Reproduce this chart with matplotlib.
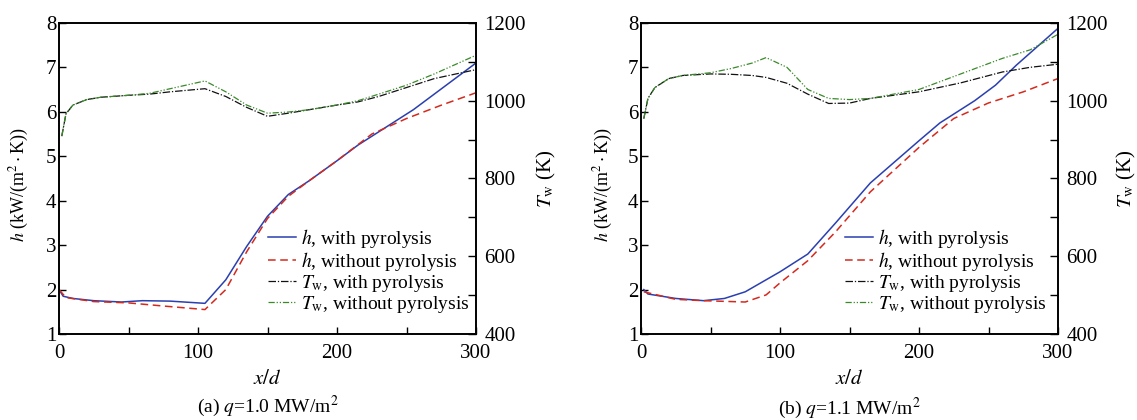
import matplotlib
matplotlib.use("Agg")
import matplotlib.pyplot as plt
import numpy as np

plt.rcParams['font.family'] = ['Liberation Serif', 'DejaVu Serif']
plt.rcParams['mathtext.fontset'] = 'stix'

# ---------- data panel (a) q=1.0 MW/m2 ----------
a_h_with_x = [0, 3, 10, 25, 45, 60, 80, 105, 120, 135, 150, 165, 180, 200, 215, 230, 255, 270, 285, 300]
a_h_with_y = [2.0, 1.85, 1.8, 1.75, 1.72, 1.75, 1.74, 1.69, 2.22, 2.97, 3.65, 4.14, 4.45, 4.9, 5.25, 5.55, 6.05, 6.4, 6.75, 7.1]
a_h_wo_x = [0, 5, 25, 50, 75, 105, 120, 135, 150, 165, 180, 200, 225, 250, 275, 300]
a_h_wo_y = [2.0, 1.82, 1.73, 1.7, 1.63, 1.55, 2.0, 2.85, 3.6, 4.1, 4.45, 4.9, 5.5, 5.85, 6.15, 6.43]
a_T_x = [2, 5, 10, 20, 30, 50, 65, 80, 105, 120, 135, 150, 165, 180, 200, 215, 230, 250, 270, 300]
a_T_with = [909, 966, 989, 1003, 1009, 1014, 1017, 1023, 1031, 1011, 983, 960, 968, 977, 989, 997, 1011, 1034, 1057, 1080]
a_T_wo = [909, 966, 989, 1003, 1009, 1014, 1019, 1031, 1051, 1023, 989, 968, 971, 977, 989, 1000, 1017, 1040, 1069, 1117]

# ---------- data panel (b) q=1.1 MW/m2 ----------
b_h_with_x = [2, 5, 25, 45, 60, 75, 100, 120, 140, 165, 200, 215, 240, 255, 270, 300]
b_h_with_y = [2.0, 1.9, 1.8, 1.75, 1.8, 1.95, 2.4, 2.8, 3.5, 4.4, 5.35, 5.75, 6.25, 6.6, 7.05, 7.88]
b_h_wo_x = [2, 25, 45, 75, 90, 100, 120, 140, 165, 200, 225, 250, 275, 300]
b_h_wo_y = [1.95, 1.78, 1.75, 1.72, 1.88, 2.15, 2.65, 3.3, 4.2, 5.2, 5.85, 6.2, 6.45, 6.75]
b_T_x = [2, 5, 10, 20, 30, 50, 65, 80, 90, 105, 120, 135, 150, 165, 200, 230, 260, 280, 300]
b_T_with = [954, 1006, 1034, 1057, 1065, 1069, 1068, 1065, 1060, 1045, 1017, 993, 994, 1006, 1023, 1046, 1074, 1086, 1094]
b_T_wo = [954, 1006, 1034, 1057, 1065, 1072, 1083, 1097, 1111, 1086, 1029, 1006, 1003, 1006, 1029, 1069, 1109, 1131, 1171]

captions = ["(a) $q$=1.0 MW/m$^2$", "(b) $q$=1.1 MW/m$^2$"]

panels = [
    (a_h_with_x, a_h_with_y, a_h_wo_x, a_h_wo_y, a_T_x, a_T_with, a_T_wo),
    (b_h_with_x, b_h_with_y, b_h_wo_x, b_h_wo_y, b_T_x, b_T_with, b_T_wo),
]

W, H = 1137, 420
fig = plt.figure(figsize=(W / 100, H / 100), dpi=100)
rects = [(59, 23, 476, 334), (641, 23, 1058, 334)]
layout = [  # legend x anchor, ylabel left x, ylabel right x, caption y (px)
    (0.501, -0.094, 1.168, 406),
    (0.489, -0.089, 1.165, 408),
]
fs = 15

for cap, (hx1, hy1, hx2, hy2, tx, t1, t2), (l, t, r, b), (lgx, ylx, yrx, capy) in zip(captions, panels, rects, layout):
    ax = fig.add_axes([l / W, 1 - b / H, (r - l) / W, (b - t) / H])
    ax2 = ax.twinx()
    l1, = ax.plot(hx1, hy1, color='#2a3fb0', lw=1.1, label='$h$, with pyrolysis')
    l2, = ax.plot(hx2, hy2, color='#d42a1e', lw=1.1, ls=(0, (5, 3)), label='$h$, without pyrolysis')
    l3, = ax2.plot(tx, t1, color='#111111', lw=0.9, ls=(0, (6, 1.5, 1, 1.5)), label='$T_{\\rm w}$, with pyrolysis')
    l4, = ax2.plot(tx, t2, color='#3a8a2a', lw=0.9, ls=(0, (5, 1.5, 1, 1.5, 1, 1.5)), label='$T_{\\rm w}$, without pyrolysis')
    ax.set_xlim(0, 300)
    ax.set_ylim(1, 8)
    ax2.set_ylim(400, 1200)
    ax.set_xticks([0, 100, 200, 300])
    ax.set_xticks([50, 150, 250], minor=True)
    ax.set_yticks(range(1, 9))
    ax2.set_yticks([400, 600, 800, 1000, 1200])
    ax2.set_yticks([500, 700, 900, 1100], minor=True)
    for a in (ax, ax2):
        a.tick_params(direction='in', which='both', labelsize=fs, length=5, width=1)
        for s in a.spines.values():
            s.set_linewidth(1.2)
    ax.tick_params(axis='x', which='both', pad=7)
    ax.tick_params(axis='y', which='both', pad=2)
    ax2.tick_params(axis='y', which='both', pad=6, length=6)
    ax.set_xlabel('$x/d$', fontsize=fs)
    ax.xaxis.set_label_coords(0.5, (b - 380) / (b - t))
    ax.xaxis.label.set_va('center')
    ax.set_ylabel('$h$ (kW/(m$^2\\cdot$K))', fontsize=13)
    ax.yaxis.set_label_coords(ylx, 0.48)
    ax.yaxis.label.set_va('center')
    ax2.set_ylabel('$T_{\\rm w}$ (K)', fontsize=fs)
    ax2.yaxis.set_label_coords(yrx, 0.5)
    ax2.yaxis.label.set_va('center')
    ax.legend(handles=[l1, l2, l3, l4], loc='upper left', bbox_to_anchor=(lgx, 0.345),
              frameon=False, fontsize=14, handlelength=1.45, handletextpad=0.26,
              labelspacing=0.0, borderaxespad=0, borderpad=0)
    cx = (l + r) / 2 / W
    fig.text(cx, 1 - capy / H, cap, ha='center', va='center', fontsize=14)

fig.savefig('out.png', dpi=100)
